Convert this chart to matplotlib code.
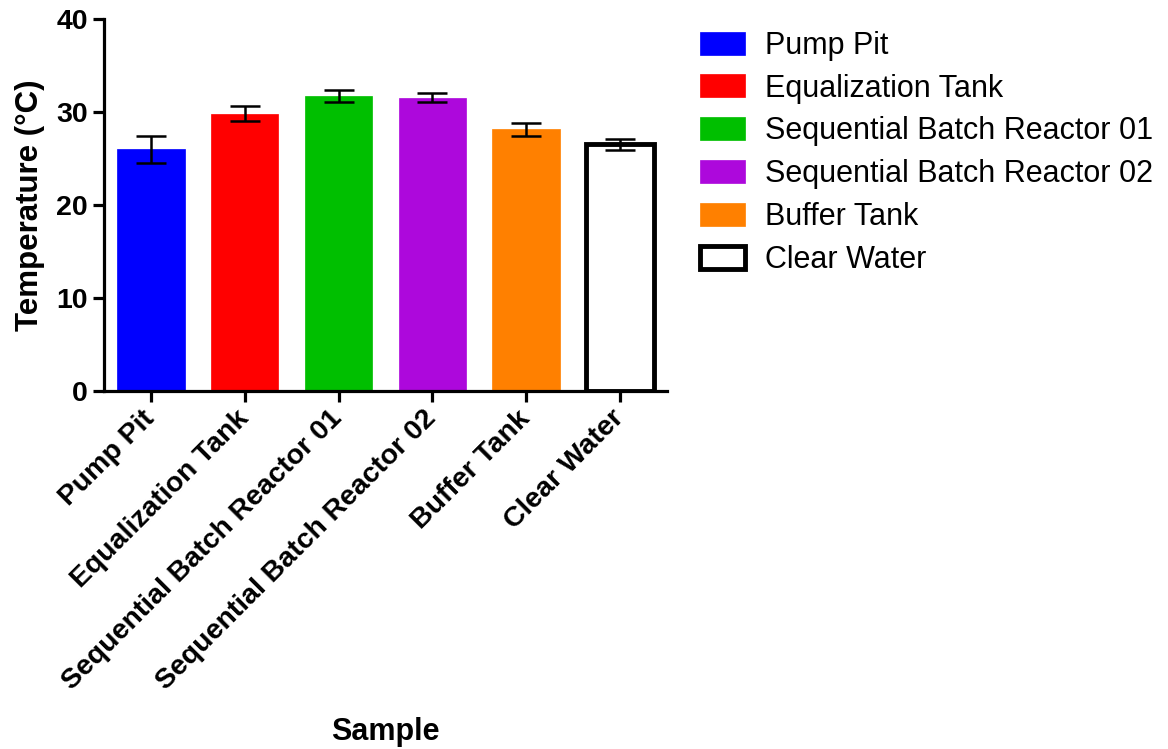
import numpy as np
import matplotlib
matplotlib.use('Agg')
import matplotlib.pyplot as plt

samples = ['Pump Pit', 'Equalization Tank', 'Sequential Batch Reactor 01',
           'Sequential Batch Reactor 02', 'Buffer Tank', 'Clear Water']
temperature = [26.0, 29.8, 31.7, 31.5, 28.1, 26.5]
temp_err = [1.45, 0.8, 0.65, 0.5, 0.65, 0.6]

face_colors = ['#0000ff', '#ff0000', '#00bf00', '#ad08dc', '#ff8000', '#ffffff']
edge_colors = ['#0000ff', '#ff0000', '#00bf00', '#ad08dc', '#ff8000', '#000000']

plt.rcParams['font.family'] = ['Liberation Sans', 'DejaVu Sans']

fig = plt.figure(figsize=(11.68, 7.49), dpi=100)
ax = fig.add_axes([0.089, 0.478, 0.482, 0.497])

x = np.arange(len(samples))
bars = []
for i in range(len(samples)):
    lw = 3.5 if edge_colors[i] == '#000000' else 0.5
    b = ax.bar(x[i], temperature[i], width=0.72, color=face_colors[i],
               edgecolor=edge_colors[i], linewidth=lw, label=samples[i], zorder=2)
    bars.append(b)

ax.errorbar(x, temperature, yerr=temp_err, fmt='none', ecolor='black',
            elinewidth=1.8, capsize=11, capthick=1.8, zorder=3)

ax.set_xlim(-0.5, 5.5)
ax.set_ylim(0, 40)

# axis style
for side in ['top', 'right']:
    ax.spines[side].set_visible(False)
ax.spines['left'].set_linewidth(2.3)
ax.spines['bottom'].set_linewidth(2.3)
ax.tick_params(axis='both', width=2.3, length=8, direction='out')
ax.set_yticks([0, 10, 20, 30, 40])
ax.set_yticklabels(['0', '10', '20', '30', '40'], fontsize=20.5, weight='bold')
ax.set_xticks(x)
ax.set_xticklabels(samples, rotation=45, ha='right', va='center',
                   rotation_mode='anchor', fontsize=20.4, weight='bold')
ax.tick_params(axis='x', pad=9)

ax.set_ylabel('Temperature (°C)', fontsize=22.5, weight='bold', labelpad=8)
fig.text(0.330, 0.003, 'Sample', fontsize=22, weight='bold', ha='center', va='bottom')

fig.legend(handles=[b[0] for b in bars], labels=samples, loc='upper left',
           bbox_to_anchor=(0.599, 0.959), frameon=False, fontsize=22,
           borderpad=0, borderaxespad=0, handlelength=1.5, handleheight=0.78,
           handletextpad=0.65, labelspacing=0.42)

fig.savefig('out.png', dpi=100)
